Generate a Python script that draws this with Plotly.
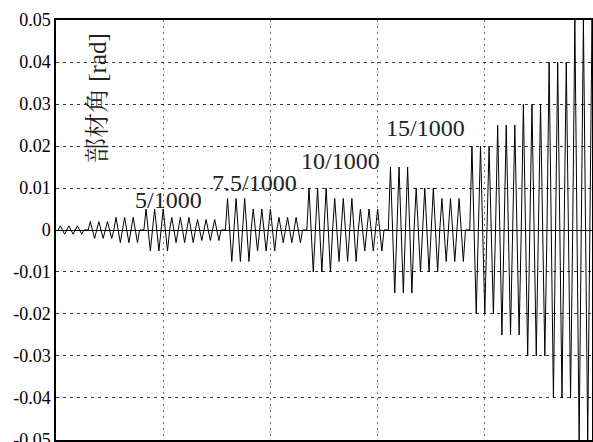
import plotly.graph_objects as go

# Loading protocol: one block = n cycles at one amplitude
block_amplitudes = [0.001, 0.002, 0.003, 0.005, 0.003, 0.0025,
                    0.0075, 0.005, 0.003,
                    0.010, 0.0075, 0.005,
                    0.015, 0.010, 0.0075,
                    0.020, 0.025, 0.030, 0.040, 0.050]
block_cycles = [3, 3, 3, 3, 3, 3,
                3, 3, 3,
                3, 3, 3,
                3, 3, 3,
                3, 3, 3, 3, 3]
# pause (two zero steps) before the block
block_pause = [False, True, False, True, False, False,
               True, False, False,
               True, False, False,
               True, False, False,
               True, False, False, False, False]

stage_labels = ["5/1000", "7.5/1000", "10/1000", "15/1000"]
label_x = [52.5, 92.5, 132.5, 172.5]
label_y = [0.0072, 0.0112, 0.0164, 0.0242]

y_ticks = [-0.05, -0.04, -0.03, -0.02, -0.01, 0, 0.01, 0.02, 0.03, 0.04, 0.05]
y_ticktext = ["-0.05", "-0.04", "-0.03", "-0.02", "-0.01", "0",
              "0.01", "0.02", "0.03", "0.04", "0.05"]
x_grid = [0, 50, 100, 150, 200, 250]

# build step sequence
xs, ys = [1], [0.0]
step = 1
for amp, n, pause in zip(block_amplitudes, block_cycles, block_pause):
    if pause:
        for _ in range(2):
            step += 1
            xs.append(step); ys.append(0.0)
    for _ in range(n):
        for v in (amp, 0.0, -amp, 0.0):
            step += 1
            xs.append(step); ys.append(v)

FONT = "Times New Roman, Liberation Serif, Noto Serif CJK JP, Noto Sans CJK JP, serif"

fig = go.Figure()
fig.add_trace(go.Scatter(x=xs, y=ys, mode="lines",
                         line=dict(color="black", width=1),
                         hoverinfo="skip", showlegend=False))

for t, lx, ly in zip(stage_labels, label_x, label_y):
    fig.add_annotation(x=lx, y=ly, text=t, showarrow=False,
                       xanchor="center", yanchor="middle",
                       font=dict(family=FONT, size=24, color="#222"))

fig.add_annotation(xref="paper", yref="paper", x=0.077, y=0.815,
                   text="部材角 [rad]", textangle=-90, showarrow=False,
                   xanchor="center", yanchor="middle",
                   font=dict(family=FONT, size=25, color="#222"))

fig.update_layout(
    width=593, height=442,
    margin=dict(l=56, r=1, t=20, b=2, autoexpand=False),
    paper_bgcolor="white", plot_bgcolor="white",
    font=dict(family=FONT, size=18, color="black"),
    xaxis=dict(range=[0, 250], tickvals=x_grid, showticklabels=False,
               automargin=False,
               ticks="", showgrid=True, gridcolor="#777", gridwidth=1,
               griddash="2px,4px", zeroline=False,
               showline=True, linecolor="black", linewidth=1.5, mirror=True),
    yaxis=dict(range=[-0.05001, 0.05001], tickvals=y_ticks,
               ticktext=y_ticktext, ticklabeloverflow="allow",
               automargin=False,
               ticks="", showgrid=True, gridcolor="#333", gridwidth=1,
               griddash="3px,4px", zeroline=True, zerolinecolor="black",
               zerolinewidth=1, showline=True, linecolor="black",
               linewidth=1.5, mirror=True,
               tickfont=dict(family=FONT, size=18, color="black")),
)

fig.write_html("out.html", config={"displayModeBar": False},
               post_script="document.body.style.margin='0';")
